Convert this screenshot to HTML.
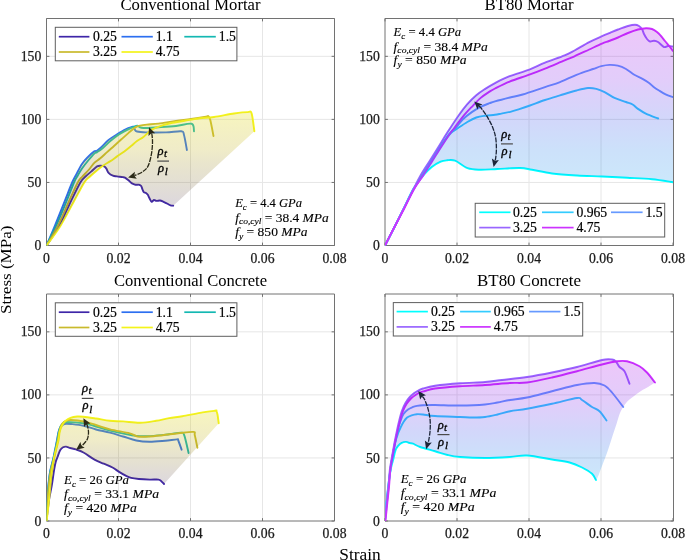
<!DOCTYPE html><html><head><meta charset="utf-8"><style>html,body{margin:0;padding:0;background:#fff;}svg{display:block;will-change:transform;}</style></head><body>
<svg width="685" height="560" viewBox="0 0 685 560" font-family='"Liberation Serif", serif'>
<rect width="685" height="560" fill="#fff"/>
<defs>
<clipPath id="clipTL"><rect x="46.5" y="18.5" width="288.0" height="227.0"/></clipPath>
<clipPath id="clipfTL"><rect x="45.9" y="17.9" width="289.2" height="228.2"/></clipPath>
<linearGradient id="gTL" gradientUnits="userSpaceOnUse" x1="0" y1="111" x2="0" y2="206">
<stop offset="0" stop-color="#e8e126" stop-opacity="0.3"/>
<stop offset="0.4" stop-color="#c3b323" stop-opacity="0.25"/>
<stop offset="0.72" stop-color="#78641e" stop-opacity="0.2"/>
<stop offset="1" stop-color="#50375a" stop-opacity="0.2"/>
</linearGradient>
<clipPath id="clipTR"><rect x="385.0" y="18.5" width="288.0" height="227.0"/></clipPath>
<clipPath id="clipfTR"><rect x="384.4" y="17.9" width="289.2" height="228.2"/></clipPath>
<linearGradient id="gTR" gradientUnits="userSpaceOnUse" x1="0" y1="25" x2="0" y2="182">
<stop offset="0" stop-color="#b000e8" stop-opacity="0.22"/>
<stop offset="0.35" stop-color="#7005e6" stop-opacity="0.2"/>
<stop offset="0.6" stop-color="#1e37e6" stop-opacity="0.2"/>
<stop offset="0.8" stop-color="#0069e6" stop-opacity="0.2"/>
<stop offset="1" stop-color="#008ceb" stop-opacity="0.2"/>
</linearGradient>
<clipPath id="clipBL"><rect x="46.5" y="294.0" width="288.0" height="227.0"/></clipPath>
<clipPath id="clipfBL"><rect x="45.9" y="293.4" width="289.2" height="228.2"/></clipPath>
<linearGradient id="gBL" gradientUnits="userSpaceOnUse" x1="0" y1="410" x2="0" y2="484">
<stop offset="0" stop-color="#e8e126" stop-opacity="0.3"/>
<stop offset="0.4" stop-color="#c3b323" stop-opacity="0.25"/>
<stop offset="0.72" stop-color="#78641e" stop-opacity="0.2"/>
<stop offset="1" stop-color="#50375a" stop-opacity="0.2"/>
</linearGradient>
<clipPath id="clipBR"><rect x="385.0" y="294.0" width="288.0" height="227.0"/></clipPath>
<clipPath id="clipfBR"><rect x="384.4" y="293.4" width="289.2" height="228.2"/></clipPath>
<linearGradient id="gBR" gradientUnits="userSpaceOnUse" x1="0" y1="359" x2="0" y2="481">
<stop offset="0" stop-color="#b000e8" stop-opacity="0.22"/>
<stop offset="0.35" stop-color="#7005e6" stop-opacity="0.2"/>
<stop offset="0.6" stop-color="#1e37e6" stop-opacity="0.2"/>
<stop offset="0.8" stop-color="#0069e6" stop-opacity="0.2"/>
<stop offset="1" stop-color="#008ceb" stop-opacity="0.2"/>
</linearGradient>
</defs>
<path d="M118.5,18.5V245.5M190.5,18.5V245.5M262.5,18.5V245.5M46.5,182.44H334.5M46.5,119.39H334.5M46.5,56.33H334.5" stroke="#e6e6e6" stroke-width="1" fill="none"/>
<path d="M46.5,18.5H334.5V245.5H46.5Z" fill="none" stroke="#727272" stroke-width="1"/>
<path d="M46.5,245.5v-2.9M46.5,18.5v2.9M118.5,245.5v-2.9M118.5,18.5v2.9M190.5,245.5v-2.9M190.5,18.5v2.9M262.5,245.5v-2.9M262.5,18.5v2.9M334.5,245.5v-2.9M334.5,18.5v2.9M46.5,245.5h2.9M334.5,245.5h-2.9M46.5,182.44h2.9M334.5,182.44h-2.9M46.5,119.39h2.9M334.5,119.39h-2.9M46.5,56.33h2.9M334.5,56.33h-2.9" stroke="#727272" stroke-width="1" fill="none"/>
<g clip-path="url(#clipTL)">
<path d="M46.5,245.5 C48.6,242.25 55.02,233.42 59.1,226 C63.18,218.58 67.43,208.29 71,201 C74.57,193.71 78.08,186.33 80.5,182.25 C82.92,178.17 83.68,178.31 85.5,176.5 C87.32,174.69 89.47,173.08 91.4,171.4 C93.33,169.72 95.55,167.35 97.1,166.4 C98.65,165.45 99.5,165.7 100.7,165.7 C101.9,165.7 103.35,165.92 104.3,166.4 C105.25,166.88 105.68,167.52 106.4,168.6 C107.12,169.68 107.52,171.72 108.6,172.9 C109.68,174.08 111.48,175.12 112.9,175.7 C114.32,176.28 115.43,176.17 117.1,176.4 C118.77,176.63 121.58,176.88 122.9,177.1 C124.22,177.32 124.07,177.17 125,177.7 C125.93,178.23 127.33,179.35 128.5,180.3 C129.67,181.25 130.83,182.67 132,183.4 C133.17,184.13 134.33,184.48 135.5,184.7 C136.67,184.92 138.05,184.48 139,184.7 C139.95,184.92 140.62,185.2 141.2,186 C141.78,186.8 142.07,188.48 142.5,189.5 C142.93,190.52 143.22,191.52 143.8,192.1 C144.38,192.68 145.33,192.55 146,193 C146.67,193.45 147.22,193.92 147.8,194.8 C148.38,195.68 148.85,197.13 149.5,198.3 C150.15,199.47 150.97,201.52 151.7,201.8 C152.43,202.08 153.1,200.15 153.9,200 C154.7,199.85 155.48,200.82 156.5,200.9 C157.52,200.98 158.83,200.35 160,200.5 C161.17,200.65 162.33,201.3 163.5,201.8 C164.67,202.3 165.83,202.92 167,203.5 C168.17,204.08 169.47,204.93 170.5,205.3 C171.53,205.67 172.75,205.63 173.2,205.7" stroke="#3e26a8" stroke-width="1.9" fill="none" stroke-linejoin="round" stroke-linecap="round"/>
<path d="M46.5,245.5 C47.88,242.25 51.71,233.42 54.75,226 C57.79,218.58 61.83,208.29 64.75,201 C67.67,193.71 70.38,186.58 72.25,182.25 C74.12,177.92 74.38,178.04 76,175 C77.62,171.96 80,167 82,164 C84,161 85.95,159.1 88,157 C90.05,154.9 92.88,152.4 94.3,151.4 C95.72,150.4 95.38,151.65 96.5,151 C97.62,150.35 98.98,149.33 101,147.5 C103.02,145.67 105.92,142.2 108.6,140 C111.28,137.8 114.25,136.08 117.1,134.3 C119.95,132.52 123.22,130.52 125.7,129.3 C128.18,128.08 130.62,127.42 132,127 C133.38,126.58 133.53,126.38 134,126.8 C134.47,127.22 134.3,128.72 134.8,129.5 C135.3,130.28 135.13,131.02 137,131.5 C138.87,131.98 141.17,132.25 146,132.4 C150.83,132.55 160.12,132.59 166,132.4 C171.88,132.21 178.25,130.82 181.25,131.25 C184.25,131.68 183.06,131.88 184,135 C184.94,138.12 186.42,147.5 186.9,150" stroke="#2c6ff0" stroke-width="1.9" fill="none" stroke-linejoin="round" stroke-linecap="round"/>
<path d="M46.5,245.5 C48.08,242.25 52.65,233.42 56,226 C59.35,218.58 63.58,208.29 66.6,201 C69.62,193.71 72.28,186.42 74.1,182.25 C75.92,178.08 76.18,178.29 77.5,176 C78.82,173.71 80.15,171.17 82,168.5 C83.85,165.83 86.55,162.48 88.6,160 C90.65,157.52 92.88,154.92 94.3,153.6 C95.72,152.28 95.67,153.05 97.1,152.1 C98.53,151.15 100.75,149.68 102.9,147.9 C105.05,146.12 107.63,143.43 110,141.4 C112.37,139.37 114.72,137.37 117.1,135.7 C119.48,134.03 121.92,132.7 124.3,131.4 C126.68,130.1 129.27,128.85 131.4,127.9 C133.53,126.95 135.75,125.85 137.1,125.7 C138.45,125.55 138.43,126.62 139.5,127 C140.57,127.38 140.33,127.96 143.5,128 C146.67,128.04 153.08,127.58 158.5,127.25 C163.92,126.92 170.48,126.58 176,126 C181.52,125.42 188.6,122.88 191.6,123.75 C194.6,124.62 193.6,130 194,131.25" stroke="#14b8b2" stroke-width="1.9" fill="none" stroke-linejoin="round" stroke-linecap="round"/>
<path d="M46.5,245.5 C48.4,242.25 54.13,233.42 57.9,226 C61.67,218.58 65.77,208.29 69.1,201 C72.43,193.71 75.75,186.25 77.9,182.25 C80.05,178.25 80.22,179.04 82,177 C83.78,174.96 86.55,172.35 88.6,170 C90.65,167.65 92.4,164.8 94.3,162.9 C96.2,161 97.87,160.4 100,158.6 C102.13,156.8 104.72,154.25 107.1,152.1 C109.48,149.95 111.92,147.83 114.3,145.7 C116.68,143.57 119.02,141.43 121.4,139.3 C123.78,137.17 126.22,134.93 128.6,132.9 C130.98,130.87 133.8,128.32 135.7,127.1 C137.6,125.88 138.13,126.02 140,125.6 C141.87,125.18 143.82,124.93 146.9,124.6 C149.98,124.27 153.65,124.22 158.5,123.6 C163.35,122.98 170.58,121.68 176,120.9 C181.42,120.12 186,119.62 191,118.9 C196,118.18 203.1,117.03 206,116.6 C208.9,116.17 207.68,115.73 208.4,116.3 C209.12,116.87 209.45,116.72 210.3,120 C211.15,123.28 212.97,133.33 213.5,136" stroke="#c9ba2c" stroke-width="1.9" fill="none" stroke-linejoin="round" stroke-linecap="round"/>
<path d="M46.5,245.5 C48.82,242.25 55.8,233.42 60.4,226 C65,218.58 70.08,208.29 74.1,201 C78.12,193.71 81.85,186.33 84.5,182.25 C87.15,178.17 88.13,178.31 90,176.5 C91.87,174.69 93.55,173.2 95.7,171.4 C97.85,169.6 100.52,167.37 102.9,165.7 C105.28,164.03 107.63,162.95 110,161.4 C112.37,159.85 114.72,158.07 117.1,156.4 C119.48,154.73 121.92,153.18 124.3,151.4 C126.68,149.62 129.28,147.43 131.4,145.7 C133.52,143.97 135,142.47 137,141 C139,139.53 140.98,138.75 143.4,136.9 C145.82,135.05 148.58,131.75 151.5,129.9 C154.42,128.05 157.38,126.98 160.9,125.8 C164.42,124.62 167.75,123.78 172.6,122.8 C177.45,121.82 185.43,120.67 190,119.9 C194.57,119.13 196,118.68 200,118.2 C204,117.72 208.33,117.78 214,117 C219.67,116.22 228.37,114.32 234,113.5 C239.63,112.68 244.87,112.12 247.8,112.1 C250.73,112.08 250.5,110.21 251.6,113.4 C252.7,116.59 253.93,128.28 254.4,131.25" stroke="#f4f41a" stroke-width="1.9" fill="none" stroke-linejoin="round" stroke-linecap="round"/>
</g>
<g clip-path="url(#clipfTL)">
<path d="M46.5,245.5 C47.88,242.25 51.71,233.42 54.75,226 C57.79,218.58 61.83,208.29 64.75,201 C67.67,193.71 70.38,186.58 72.25,182.25 C74.12,177.92 74.38,178.04 76,175 C77.62,171.96 80,167 82,164 C84,161 85.95,159.1 88,157 C90.05,154.9 92.88,152.4 94.3,151.4 C95.72,150.4 95.38,151.65 96.5,151 C97.62,150.35 98.98,149.33 101,147.5 C103.02,145.67 105.92,142.2 108.6,140 C111.28,137.8 114.25,136.08 117.1,134.3 C119.95,132.52 123.22,130.52 125.7,129.3 C128.18,128.08 130.62,127.42 132,127 C133.38,126.58 133.15,127.02 134,126.8 C134.85,126.58 136.1,125.9 137.1,125.7 C138.1,125.5 138.37,125.78 140,125.6 C141.63,125.42 143.82,124.93 146.9,124.6 C149.98,124.27 153.65,124.22 158.5,123.6 C163.35,122.98 170.58,121.68 176,120.9 C181.42,120.12 186,119.62 191,118.9 C196,118.18 203.1,117.03 206,116.6 C208.9,116.17 207.07,116.23 208.4,116.3 C209.73,116.37 209.73,117.47 214,117 C218.27,116.53 228.37,114.32 234,113.5 C239.63,112.68 244.87,112.12 247.8,112.1 C250.73,112.08 250.5,110.21 251.6,113.4 C252.7,116.59 253.93,128.28 254.4,131.25 L173.2,205.7 C172.75,205.63 171.53,205.67 170.5,205.3 C169.47,204.93 168.17,204.08 167,203.5 C165.83,202.92 164.67,202.3 163.5,201.8 C162.33,201.3 161.17,200.65 160,200.5 C158.83,200.35 157.52,200.98 156.5,200.9 C155.48,200.82 154.7,199.85 153.9,200 C153.1,200.15 152.43,202.08 151.7,201.8 C150.97,201.52 150.15,199.47 149.5,198.3 C148.85,197.13 148.38,195.68 147.8,194.8 C147.22,193.92 146.67,193.45 146,193 C145.33,192.55 144.38,192.68 143.8,192.1 C143.22,191.52 142.93,190.52 142.5,189.5 C142.07,188.48 141.78,186.8 141.2,186 C140.62,185.2 139.95,184.92 139,184.7 C138.05,184.48 136.67,184.92 135.5,184.7 C134.33,184.48 133.17,184.13 132,183.4 C130.83,182.67 129.67,181.25 128.5,180.3 C127.33,179.35 125.93,178.23 125,177.7 C124.07,177.17 124.22,177.32 122.9,177.1 C121.58,176.88 118.77,176.63 117.1,176.4 C115.43,176.17 114.32,176.28 112.9,175.7 C111.48,175.12 109.68,174.08 108.6,172.9 C107.52,171.72 107.12,169.68 106.4,168.6 C105.68,167.52 104.88,166.88 104.3,166.4 C103.72,165.92 104.33,164.87 102.9,165.7 C101.47,166.53 97.85,169.6 95.7,171.4 C93.55,173.2 91.87,174.69 90,176.5 C88.13,178.31 87.15,178.17 84.5,182.25 C81.85,186.33 78.12,193.71 74.1,201 C70.08,208.29 65,218.58 60.4,226 C55.8,233.42 48.82,242.25 46.5,245.5Z" fill="url(#gTL)" fill-opacity="1" stroke="none"/>
</g>
<text x="46.5" y="262.8" font-size="13.7" text-anchor="middle" fill="#1a1a1a" stroke="#1a1a1a" stroke-width="0.25">0</text>
<text x="118.5" y="262.8" font-size="13.7" text-anchor="middle" fill="#1a1a1a" stroke="#1a1a1a" stroke-width="0.25">0.02</text>
<text x="190.5" y="262.8" font-size="13.7" text-anchor="middle" fill="#1a1a1a" stroke="#1a1a1a" stroke-width="0.25">0.04</text>
<text x="262.5" y="262.8" font-size="13.7" text-anchor="middle" fill="#1a1a1a" stroke="#1a1a1a" stroke-width="0.25">0.06</text>
<text x="334.5" y="262.8" font-size="13.7" text-anchor="middle" fill="#1a1a1a" stroke="#1a1a1a" stroke-width="0.25">0.08</text>
<text x="41.3" y="250.1" font-size="13.7" text-anchor="end" fill="#1a1a1a" stroke="#1a1a1a" stroke-width="0.25">0</text>
<text x="41.3" y="187.04" font-size="13.7" text-anchor="end" fill="#1a1a1a" stroke="#1a1a1a" stroke-width="0.25">50</text>
<text x="41.3" y="123.99" font-size="13.7" text-anchor="end" fill="#1a1a1a" stroke="#1a1a1a" stroke-width="0.25">100</text>
<text x="41.3" y="60.93" font-size="13.7" text-anchor="end" fill="#1a1a1a" stroke="#1a1a1a" stroke-width="0.25">150</text>
<text x="190.5" y="10.3" font-size="16.2" text-anchor="middle" textLength="140" lengthAdjust="spacingAndGlyphs" fill="#000">Conventional Mortar</text>
<rect x="55.3" y="27.3" width="181.6" height="33.5" fill="#fff" stroke="#5e5e5e" stroke-width="1"/>
<path d="M58.8,36.7H89.4" stroke="#3e26a8" stroke-width="1.7"/>
<text x="92.9" y="41" font-size="13.7" fill="#000" stroke="#000" stroke-width="0.2">0.25</text>
<path d="M121.5,36.7H152.8" stroke="#2c6ff0" stroke-width="1.7"/>
<text x="155.7" y="41" font-size="13.7" fill="#000" stroke="#000" stroke-width="0.2">1.1</text>
<path d="M184.3,36.7H215.8" stroke="#14b8b2" stroke-width="1.7"/>
<text x="218.8" y="41" font-size="13.7" fill="#000" stroke="#000" stroke-width="0.2">1.5</text>
<path d="M58.8,52H89.4" stroke="#c9ba2c" stroke-width="1.7"/>
<text x="92.9" y="56.3" font-size="13.7" fill="#000" stroke="#000" stroke-width="0.2">3.25</text>
<path d="M121.5,52H152.8" stroke="#f4f41a" stroke-width="1.7"/>
<text x="155.7" y="56.3" font-size="13.7" fill="#000" stroke="#000" stroke-width="0.2">4.75</text>
<text x="235.2" y="207.3" font-size="12.4" textLength="66.8" lengthAdjust="spacingAndGlyphs" fill="#000" stroke="#000" stroke-width="0.12"><tspan font-style="italic">E</tspan><tspan font-style="italic" font-size="8.8" dy="2.9">c</tspan><tspan dy="-2.9"> = 4.4 </tspan><tspan font-style="italic">GPa</tspan></text>
<text x="235.2" y="221.5" font-size="12.4" textLength="93.5" lengthAdjust="spacingAndGlyphs" fill="#000" stroke="#000" stroke-width="0.12"><tspan font-style="italic">f</tspan><tspan font-style="italic" font-size="8.8" dy="2.9">co,cyl</tspan><tspan dy="-2.9"> = 38.4 </tspan><tspan font-style="italic">MPa</tspan></text>
<text x="235.2" y="235.6" font-size="12.4" textLength="72.4" lengthAdjust="spacingAndGlyphs" fill="#000" stroke="#000" stroke-width="0.12"><tspan font-style="italic">f</tspan><tspan font-style="italic" font-size="8.8" dy="2.9">y</tspan><tspan dy="-2.9"> = 850 </tspan><tspan font-style="italic">MPa</tspan></text>
<path d="M151.37,133.36 C151.47,133.63 151.81,133.36 152,135 C152.19,136.64 152.62,139.9 152.5,143.2 C152.38,146.5 152.07,150.93 151.3,154.8 C150.53,158.67 149.45,163.5 147.9,166.4 C146.35,169.3 144.15,170.68 142,172.2 C139.85,173.72 136.26,174.93 135,175.5 C133.74,176.07 134.55,175.62 134.46,175.65" stroke="#2b2a18" stroke-width="1.3" fill="none" stroke-dasharray="5,1"/>
<path d="M149,127.2 L155.23,133.37 L151.37,133.36 L148.51,135.96 Z" fill="#2b2a18"/>
<path d="M128.1,177.4 L134.86,171.81 L134.46,175.65 L136.77,178.75 Z" fill="#2b2a18"/>
<path d="M157.3,161.1H169" stroke="#4a4a4a" stroke-width="1.2"/>
<text x="157.5" y="155.1" font-size="12.5" font-style="italic" fill="#000" stroke="#000" stroke-width="0.35">&#961;</text>
<text x="163.9" y="157.1" font-size="11" font-style="italic" fill="#000" stroke="#000" stroke-width="0.3">t</text>
<text x="157.9" y="172" font-size="12.5" font-style="italic" fill="#000" stroke="#000" stroke-width="0.35">&#961;</text>
<text x="164.7" y="175.3" font-size="11" font-style="italic" fill="#000" stroke="#000" stroke-width="0.3">l</text>
<path d="M457,18.5V245.5M529,18.5V245.5M601,18.5V245.5M385,182.44H673M385,119.39H673M385,56.33H673" stroke="#e6e6e6" stroke-width="1" fill="none"/>
<path d="M385.0,18.5H673.5V245.5H385.0Z" fill="none" stroke="#727272" stroke-width="1"/>
<path d="M385,245.5v-2.9M385,18.5v2.9M457,245.5v-2.9M457,18.5v2.9M529,245.5v-2.9M529,18.5v2.9M601,245.5v-2.9M601,18.5v2.9M673,245.5v-2.9M673,18.5v2.9M385,245.5h2.9M673.5,245.5h-2.9M385,182.44h2.9M673.5,182.44h-2.9M385,119.39h2.9M673.5,119.39h-2.9M385,56.33h2.9M673.5,56.33h-2.9" stroke="#727272" stroke-width="1" fill="none"/>
<g clip-path="url(#clipTR)">
<path d="M385,245.5 C386.58,242.42 391.35,233.23 394.5,227 C397.65,220.77 400.75,214.47 403.9,208.1 C407.05,201.73 410.09,194.32 413.4,188.8 C416.71,183.28 420.68,178.63 423.75,175 C426.82,171.37 428.98,169.23 431.8,167 C434.62,164.77 438.17,162.72 440.7,161.6 C443.23,160.48 444.62,160.45 447,160.3 C449.38,160.15 451.58,159.38 455,160.7 C458.42,162.02 463.33,166.69 467.5,168.2 C471.67,169.71 475,169.62 480,169.75 C485,169.88 490.83,169.29 497.5,169 C504.17,168.71 514.25,167.88 520,168 C525.75,168.12 526.67,168.83 532,169.75 C537.33,170.67 544.5,172.54 552,173.5 C559.5,174.46 568.67,175 577,175.5 C585.33,176 593.67,176.12 602,176.5 C610.33,176.88 618.67,177.29 627,177.75 C635.33,178.21 644.33,178.5 652,179.25 C659.67,180 669.5,181.75 673,182.25" stroke="#00ffff" stroke-width="1.9" fill="none" stroke-linejoin="round" stroke-linecap="round"/>
<path d="M385,245.5 C386.58,242.42 391.33,233.23 394.5,227 C397.67,220.77 400.82,214.4 404,208.1 C407.18,201.8 410.5,194.72 413.6,189.2 C416.7,183.68 419.62,179.75 422.6,175 C425.58,170.25 428.52,165.47 431.5,160.7 C434.48,155.93 437.92,150.27 440.5,146.4 C443.08,142.53 445.17,139.82 447,137.5 C448.83,135.18 449.9,133.92 451.5,132.5 C453.1,131.08 453.97,130.75 456.6,129 C459.23,127.25 464.03,123.92 467.3,122 C470.57,120.08 473.27,118.55 476.25,117.5 C479.23,116.45 482.07,116.15 485.2,115.7 C488.32,115.25 492.3,115.15 495,114.8 C497.7,114.45 498.83,114.1 501.4,113.6 C503.97,113.1 507.42,112.55 510.4,111.8 C513.38,111.05 516.03,110.15 519.3,109.1 C522.57,108.05 525.72,107.02 530,105.5 C534.28,103.98 540,101.68 545,100 C550,98.32 554.75,96.98 560,95.4 C565.25,93.82 571.83,91.73 576.5,90.5 C581.17,89.27 584.7,88.28 588,88 C591.3,87.72 593.53,88.12 596.3,88.8 C599.07,89.48 601.57,90.58 604.6,92.1 C607.63,93.62 610.93,96.25 614.5,97.9 C618.07,99.55 622.98,100.9 626,102 C629.02,103.1 630.67,103.4 632.6,104.5 C634.53,105.6 635.4,107.08 637.6,108.6 C639.8,110.12 642.37,111.95 645.8,113.6 C649.23,115.25 656.13,117.68 658.2,118.5" stroke="#33ccff" stroke-width="1.9" fill="none" stroke-linejoin="round" stroke-linecap="round"/>
<path d="M385,245.5 C386.58,242.42 391.33,233.23 394.5,227 C397.67,220.77 400.82,214.4 404,208.1 C407.18,201.8 410.5,194.72 413.6,189.2 C416.7,183.68 419.62,179.75 422.6,175 C425.58,170.25 428.52,165.47 431.5,160.7 C434.48,155.93 437.5,150.93 440.5,146.4 C443.5,141.87 446.97,136.57 449.5,133.5 C452.03,130.43 453.47,130.37 455.7,128 C457.93,125.63 460.22,121.95 462.9,119.3 C465.58,116.65 468.83,114.18 471.8,112.1 C474.77,110.02 477.73,108.28 480.7,106.8 C483.67,105.32 487.22,104.1 489.6,103.2 C491.98,102.3 491.6,102.35 495,101.4 C498.4,100.45 505.38,98.65 510,97.5 C514.62,96.35 516.87,96.23 522.7,94.5 C528.53,92.77 538.78,89.15 545,87.1 C551.22,85.05 554.75,84.25 560,82.2 C565.25,80.15 571,77 576.5,74.8 C582,72.6 588.87,70.43 593,69 C597.13,67.57 598.55,66.88 601.3,66.2 C604.05,65.52 606.75,64.98 609.5,64.9 C612.25,64.82 615.05,65.02 617.8,65.7 C620.55,66.38 623.25,67.48 626,69 C628.75,70.52 631.55,73.15 634.3,74.8 C637.05,76.45 640.03,77.53 642.5,78.9 C644.97,80.27 647.18,81.62 649.1,83 C651.02,84.38 652.35,85.95 654,87.2 C655.65,88.45 657.07,89.32 659,90.5 C660.93,91.68 663.27,93.2 665.6,94.3 C667.93,95.4 671.77,96.63 673,97.1" stroke="#6699ff" stroke-width="1.9" fill="none" stroke-linejoin="round" stroke-linecap="round"/>
<path d="M385,245.5 C386.58,242.42 391.35,233.23 394.5,227 C397.65,220.77 400.75,214.4 403.9,208.1 C407.05,201.8 410.58,194.72 413.4,189.2 C416.22,183.68 418.07,179.75 420.8,175 C423.53,170.25 426.82,165.47 429.8,160.7 C432.78,155.93 435.73,151.17 438.7,146.4 C441.67,141.63 444.32,137.22 447.6,132.1 C450.88,126.98 455.12,120.37 458.4,115.7 C461.68,111.03 464.32,107.52 467.3,104.1 C470.28,100.68 473.27,97.73 476.25,95.2 C479.23,92.67 482.07,90.92 485.2,88.9 C488.32,86.88 490.93,85.22 495,83.1 C499.07,80.98 503.88,78.45 509.6,76.2 C515.32,73.95 523.4,71.85 529.3,69.6 C535.2,67.35 539.12,65.07 545,62.7 C550.88,60.33 559.68,57.43 564.6,55.4 C569.52,53.37 570.4,52.72 574.5,50.5 C578.6,48.28 584.62,44.48 589.2,42.1 C593.78,39.72 598.53,37.75 602,36.2 C605.47,34.65 607.33,33.92 610,32.8 C612.67,31.68 615,30.63 618,29.5 C621,28.37 625.17,26.78 628,26 C630.83,25.22 633.17,24.8 635,24.8 C636.83,24.8 637.83,25.3 639,26 C640.17,26.7 641.17,27.67 642,29 C642.83,30.33 643.17,32.33 644,34 C644.83,35.67 646,37.75 647,39 C648,40.25 648.83,41.2 650,41.5 C651.17,41.8 652.67,40.72 654,40.8 C655.33,40.88 656.33,40.97 658,42 C659.67,43.03 662.33,46.33 664,47 C665.67,47.67 666.5,46.08 668,46 C669.5,45.92 672.17,46.42 673,46.5" stroke="#9966ff" stroke-width="1.9" fill="none" stroke-linejoin="round" stroke-linecap="round"/>
<path d="M385,245.5 C386.58,242.42 391.25,233.23 394.5,227 C397.75,220.77 401.25,214.4 404.5,208.1 C407.75,201.8 410.83,194.72 414,189.2 C417.17,183.68 420.42,179.75 423.5,175 C426.58,170.25 429.5,165.47 432.5,160.7 C435.5,155.93 438.5,151.02 441.5,146.4 C444.5,141.78 448.43,135.98 450.5,133 C452.57,130.02 451.83,131.23 453.9,128.5 C455.97,125.77 459.92,120.22 462.9,116.6 C465.88,112.98 468.83,109.92 471.8,106.8 C474.77,103.68 477.73,100.43 480.7,97.9 C483.67,95.37 487.22,93.17 489.6,91.6 C491.98,90.03 491.67,90.17 495,88.5 C498.33,86.83 503.88,83.9 509.6,81.6 C515.32,79.3 523.4,76.87 529.3,74.7 C535.2,72.53 539.12,71 545,68.6 C550.88,66.2 559.68,62.35 564.6,60.3 C569.52,58.25 570.4,58.1 574.5,56.3 C578.6,54.5 584.62,51.62 589.2,49.5 C593.78,47.38 598.7,45.02 602,43.6 C605.3,42.18 606.33,42.02 609,41 C611.67,39.98 614.83,38.83 618,37.5 C621.17,36.17 624.67,34.33 628,33 C631.33,31.67 635,30.3 638,29.5 C641,28.7 643.67,28.28 646,28.2 C648.33,28.12 650.17,28.37 652,29 C653.83,29.63 655.5,30.83 657,32 C658.5,33.17 659.67,34.5 661,36 C662.33,37.5 663.5,39.17 665,41 C666.5,42.83 668.67,45.33 670,47 C671.33,48.67 672.5,50.33 673,51" stroke="#cc33ff" stroke-width="1.9" fill="none" stroke-linejoin="round" stroke-linecap="round"/>
</g>
<g clip-path="url(#clipfTR)">
<path d="M385,245.5 C386.58,242.42 391.35,233.23 394.5,227 C397.65,220.77 400.75,214.4 403.9,208.1 C407.05,201.8 410.58,194.72 413.4,189.2 C416.22,183.68 418.07,179.75 420.8,175 C423.53,170.25 426.82,165.47 429.8,160.7 C432.78,155.93 435.73,151.17 438.7,146.4 C441.67,141.63 444.32,137.22 447.6,132.1 C450.88,126.98 455.12,120.37 458.4,115.7 C461.68,111.03 464.32,107.52 467.3,104.1 C470.28,100.68 473.27,97.73 476.25,95.2 C479.23,92.67 482.07,90.92 485.2,88.9 C488.32,86.88 490.93,85.22 495,83.1 C499.07,80.98 503.88,78.45 509.6,76.2 C515.32,73.95 523.4,71.85 529.3,69.6 C535.2,67.35 539.12,65.07 545,62.7 C550.88,60.33 559.68,57.43 564.6,55.4 C569.52,53.37 570.4,52.72 574.5,50.5 C578.6,48.28 584.62,44.48 589.2,42.1 C593.78,39.72 598.53,37.75 602,36.2 C605.47,34.65 607.33,33.92 610,32.8 C612.67,31.68 615,30.63 618,29.5 C621,28.37 625.17,26.78 628,26 C630.83,25.22 633.17,24.8 635,24.8 C636.83,24.8 637.83,25.37 639,26 C640.17,26.63 640.83,28.23 642,28.6 C643.17,28.97 644.33,28.13 646,28.2 C647.67,28.27 650.17,28.37 652,29 C653.83,29.63 655.5,30.83 657,32 C658.5,33.17 659.67,34.5 661,36 C662.33,37.5 663.83,39.58 665,41 C666.17,42.42 666.67,43.58 668,44.5 C669.33,45.42 672.17,46.17 673,46.5 L673,182.25 C673,182.25 676.5,182.75 673,182.25 C669.5,181.75 659.67,180 652,179.25 C644.33,178.5 635.33,178.21 627,177.75 C618.67,177.29 610.33,176.88 602,176.5 C593.67,176.12 585.33,176 577,175.5 C568.67,175 559.5,174.46 552,173.5 C544.5,172.54 537.33,170.67 532,169.75 C526.67,168.83 525.75,168.12 520,168 C514.25,167.88 504.17,168.71 497.5,169 C490.83,169.29 485,169.88 480,169.75 C475,169.62 471.67,169.71 467.5,168.2 C463.33,166.69 458.42,162.02 455,160.7 C451.58,159.38 449.38,160.15 447,160.3 C444.62,160.45 443.23,160.48 440.7,161.6 C438.17,162.72 434.62,164.77 431.8,167 C428.98,169.23 426.82,171.37 423.75,175 C420.68,178.63 416.71,183.28 413.4,188.8 C410.09,194.32 407.05,201.73 403.9,208.1 C400.75,214.47 397.65,220.77 394.5,227 C391.35,233.23 386.58,242.42 385,245.5Z" fill="url(#gTR)" fill-opacity="1" stroke="none"/>
</g>
<text x="385" y="262.8" font-size="13.7" text-anchor="middle" fill="#1a1a1a" stroke="#1a1a1a" stroke-width="0.25">0</text>
<text x="457" y="262.8" font-size="13.7" text-anchor="middle" fill="#1a1a1a" stroke="#1a1a1a" stroke-width="0.25">0.02</text>
<text x="529" y="262.8" font-size="13.7" text-anchor="middle" fill="#1a1a1a" stroke="#1a1a1a" stroke-width="0.25">0.04</text>
<text x="601" y="262.8" font-size="13.7" text-anchor="middle" fill="#1a1a1a" stroke="#1a1a1a" stroke-width="0.25">0.06</text>
<text x="673" y="262.8" font-size="13.7" text-anchor="middle" fill="#1a1a1a" stroke="#1a1a1a" stroke-width="0.25">0.08</text>
<text x="379.8" y="250.1" font-size="13.7" text-anchor="end" fill="#1a1a1a" stroke="#1a1a1a" stroke-width="0.25">0</text>
<text x="379.8" y="187.04" font-size="13.7" text-anchor="end" fill="#1a1a1a" stroke="#1a1a1a" stroke-width="0.25">50</text>
<text x="379.8" y="123.99" font-size="13.7" text-anchor="end" fill="#1a1a1a" stroke="#1a1a1a" stroke-width="0.25">100</text>
<text x="379.8" y="60.93" font-size="13.7" text-anchor="end" fill="#1a1a1a" stroke="#1a1a1a" stroke-width="0.25">150</text>
<text x="529" y="10.3" font-size="16.2" text-anchor="middle" textLength="89" lengthAdjust="spacingAndGlyphs" fill="#000">BT80 Mortar</text>
<rect x="475.2" y="203.3" width="189.5" height="33.7" fill="#fff" stroke="#5e5e5e" stroke-width="1"/>
<path d="M479.2,212.3H510.5" stroke="#00ffff" stroke-width="1.7"/>
<text x="512.9" y="216.6" font-size="13.7" fill="#000" stroke="#000" stroke-width="0.2">0.25</text>
<path d="M542,212.3H573.6" stroke="#33ccff" stroke-width="1.7"/>
<text x="576.4" y="216.6" font-size="13.7" fill="#000" stroke="#000" stroke-width="0.2">0.965</text>
<path d="M611,212.3H642.6" stroke="#6699ff" stroke-width="1.7"/>
<text x="645.4" y="216.6" font-size="13.7" fill="#000" stroke="#000" stroke-width="0.2">1.5</text>
<path d="M479.2,227.6H510.5" stroke="#9966ff" stroke-width="1.7"/>
<text x="512.9" y="231.9" font-size="13.7" fill="#000" stroke="#000" stroke-width="0.2">3.25</text>
<path d="M542,227.6H573.6" stroke="#cc33ff" stroke-width="1.7"/>
<text x="576.4" y="231.9" font-size="13.7" fill="#000" stroke="#000" stroke-width="0.2">4.75</text>
<text x="393.6" y="36.4" font-size="12.4" textLength="67.6" lengthAdjust="spacingAndGlyphs" fill="#000" stroke="#000" stroke-width="0.12"><tspan font-style="italic">E</tspan><tspan font-style="italic" font-size="8.8" dy="2.9">c</tspan><tspan dy="-2.9"> = 4.4 </tspan><tspan font-style="italic">GPa</tspan></text>
<text x="393.6" y="50.5" font-size="12.4" textLength="94.3" lengthAdjust="spacingAndGlyphs" fill="#000" stroke="#000" stroke-width="0.12"><tspan font-style="italic">f</tspan><tspan font-style="italic" font-size="8.8" dy="2.9">co,cyl</tspan><tspan dy="-2.9"> = 38.4 </tspan><tspan font-style="italic">MPa</tspan></text>
<text x="393.6" y="64.2" font-size="12.4" textLength="73.0" lengthAdjust="spacingAndGlyphs" fill="#000" stroke="#000" stroke-width="0.12"><tspan font-style="italic">f</tspan><tspan font-style="italic" font-size="8.8" dy="2.9">y</tspan><tspan dy="-2.9"> = 850 </tspan><tspan font-style="italic">MPa</tspan></text>
<path d="M478.94,106.1 C479.46,106.63 480.61,107.33 482.1,109.3 C483.59,111.27 486.1,114.8 487.9,117.9 C489.7,121 491.6,124.57 492.9,127.9 C494.2,131.23 495.12,134.33 495.7,137.9 C496.28,141.47 496.4,145.97 496.4,149.3 C496.4,152.63 495.92,156.01 495.7,157.9 C495.48,159.79 495.17,160.2 495.07,160.67" stroke="#1b2538" stroke-width="1.3" fill="none" stroke-dasharray="5,1"/>
<path d="M474.3,101.4 L482.48,104.56 L478.94,106.1 L477.36,109.62 Z" fill="#1b2538"/>
<path d="M493.6,167.1 L491.87,158.5 L495.07,160.67 L498.89,160.1 Z" fill="#1b2538"/>
<path d="M501,143.9H512.9" stroke="#4a4a4a" stroke-width="1.2"/>
<text x="501.2" y="137.9" font-size="12.5" font-style="italic" fill="#000" stroke="#000" stroke-width="0.35">&#961;</text>
<text x="507.6" y="139.9" font-size="11" font-style="italic" fill="#000" stroke="#000" stroke-width="0.3">t</text>
<text x="501.6" y="154.8" font-size="12.5" font-style="italic" fill="#000" stroke="#000" stroke-width="0.35">&#961;</text>
<text x="508.4" y="158.1" font-size="11" font-style="italic" fill="#000" stroke="#000" stroke-width="0.3">l</text>
<path d="M118.5,294V521M190.5,294V521M262.5,294V521M46.5,457.94H334.5M46.5,394.89H334.5M46.5,331.83H334.5" stroke="#e6e6e6" stroke-width="1" fill="none"/>
<path d="M46.5,294.0H334.5V521.0H46.5Z" fill="none" stroke="#727272" stroke-width="1"/>
<path d="M46.5,521v-2.9M46.5,294v2.9M118.5,521v-2.9M118.5,294v2.9M190.5,521v-2.9M190.5,294v2.9M262.5,521v-2.9M262.5,294v2.9M334.5,521v-2.9M334.5,294v2.9M46.5,521h2.9M334.5,521h-2.9M46.5,457.94h2.9M334.5,457.94h-2.9M46.5,394.89h2.9M334.5,394.89h-2.9M46.5,331.83h2.9M334.5,331.83h-2.9" stroke="#727272" stroke-width="1" fill="none"/>
<g clip-path="url(#clipBL)">
<path d="M46.5,521 C46.67,519.5 47.08,515.5 47.5,512 C47.92,508.5 48.5,503.33 49,500 C49.5,496.67 50,494.67 50.5,492 C51,489.33 51.38,487.78 52,484 C52.62,480.22 53.58,472.97 54.2,469.3 C54.82,465.63 55.15,464.05 55.7,462 C56.25,459.95 56.77,458.97 57.5,457 C58.23,455.03 59.18,451.82 60.1,450.2 C61.02,448.58 62.02,447.9 63,447.3 C63.98,446.7 64.77,446.48 66,446.6 C67.23,446.72 68.73,447.53 70.4,448 C72.07,448.47 73.82,448.65 76,449.4 C78.18,450.15 80.33,450.75 83.5,452.5 C86.67,454.25 91.62,458.03 95,459.9 C98.38,461.77 100.88,462.43 103.8,463.7 C106.72,464.97 109.95,466.13 112.5,467.5 C115.05,468.87 116.9,470.53 119.1,471.9 C121.3,473.27 123.7,474.7 125.7,475.7 C127.7,476.7 128.92,477.35 131.1,477.9 C133.28,478.45 135.68,478.72 138.8,479 C141.92,479.28 146.52,479.5 149.8,479.6 C153.08,479.7 156.58,479.33 158.5,479.6 C160.42,479.87 160.38,480.47 161.3,481.2 C162.22,481.93 163.55,483.53 164,484" stroke="#3e26a8" stroke-width="1.9" fill="none" stroke-linejoin="round" stroke-linecap="round"/>
<path d="M46.5,521 C46.53,519.17 46.52,514.33 46.7,510 C46.88,505.67 47.23,500 47.6,495 C47.97,490 48.43,484.17 48.9,480 C49.37,475.83 49.73,473.33 50.4,470 C51.07,466.67 52.13,463.33 52.9,460 C53.67,456.67 54.32,453.33 55,450 C55.68,446.67 56.42,443 57,440 C57.58,437 57.92,434.17 58.5,432 C59.08,429.83 59.67,428.27 60.5,427 C61.33,425.73 62.58,424.94 63.5,424.4 C64.42,423.86 64.75,423.82 66,423.75 C67.25,423.68 68.08,423.67 71,424 C73.92,424.33 79.33,424.83 83.5,425.75 C87.67,426.67 91.58,428.36 96,429.5 C100.42,430.64 105.48,431.43 110,432.6 C114.52,433.77 118.72,435.18 123.1,436.5 C127.48,437.82 131.92,439.62 136.3,440.5 C140.68,441.38 144.58,441.77 149.4,441.8 C154.22,441.83 160.6,441.1 165.2,440.7 C169.8,440.3 174.82,439.43 177,439.4 C179.18,439.37 177.53,438.78 178.3,440.5 C179.07,442.22 181.05,448.17 181.6,449.7" stroke="#2c6ff0" stroke-width="1.9" fill="none" stroke-linejoin="round" stroke-linecap="round"/>
<path d="M46.5,521 C46.55,519.17 46.58,514.33 46.8,510 C47.02,505.67 47.42,500 47.8,495 C48.18,490 48.62,484.17 49.1,480 C49.58,475.83 50.02,473.33 50.7,470 C51.38,466.67 52.43,463.33 53.2,460 C53.97,456.67 54.62,453.33 55.3,450 C55.98,446.67 56.72,443 57.3,440 C57.88,437 58.22,434.33 58.8,432 C59.38,429.67 60.02,427.5 60.8,426 C61.58,424.5 62.63,423.67 63.5,423 C64.37,422.33 62.67,421.96 66,422 C69.33,422.04 78.5,422.5 83.5,423.25 C88.5,424 91.58,425.27 96,426.5 C100.42,427.73 103.28,429.03 110,430.6 C116.72,432.17 129.07,435.02 136.3,435.9 C143.53,436.78 147.93,436.18 153.4,435.9 C158.87,435.62 164.5,434.75 169.1,434.2 C173.7,433.65 178.48,432.43 181,432.6 C183.52,432.77 182.93,431.8 184.2,435.2 C185.47,438.6 187.87,450.03 188.6,453" stroke="#14b8b2" stroke-width="1.9" fill="none" stroke-linejoin="round" stroke-linecap="round"/>
<path d="M46.5,521 C46.57,519.17 46.65,514.33 46.9,510 C47.15,505.67 47.58,500 48,495 C48.42,490 48.9,484.17 49.4,480 C49.9,475.83 50.3,473.33 51,470 C51.7,466.67 52.82,463.33 53.6,460 C54.38,456.67 55,453.33 55.7,450 C56.4,446.67 57.22,443 57.8,440 C58.38,437 58.63,434.42 59.2,432 C59.77,429.58 60.4,427.17 61.2,425.5 C62,423.83 63.03,422.83 64,422 C64.97,421.17 65.83,420.83 67,420.5 C68.17,420.17 68.25,419.83 71,420 C73.75,420.17 79.33,420.67 83.5,421.5 C87.67,422.33 91.58,423.7 96,425 C100.42,426.3 104.38,427.92 110,429.3 C115.62,430.68 125.1,432.1 129.7,433.3 C134.3,434.5 134.32,435.97 137.6,436.5 C140.88,437.03 145.23,436.72 149.4,436.5 C153.57,436.28 157.78,435.73 162.6,435.2 C167.42,434.67 173.17,433.85 178.3,433.3 C183.43,432.75 190.65,431.58 193.4,431.9 C196.15,432.22 194.13,432.57 194.8,435.2 C195.47,437.83 196.97,445.62 197.4,447.7" stroke="#c9ba2c" stroke-width="1.9" fill="none" stroke-linejoin="round" stroke-linecap="round"/>
<path d="M46.5,521 C46.57,520.67 46.58,521.52 46.9,519 C47.22,516.48 47.9,510.53 48.4,505.9 C48.9,501.27 49.42,496.08 49.9,491.2 C50.38,486.32 50.82,480.73 51.3,476.6 C51.78,472.47 52.32,469.57 52.8,466.4 C53.28,463.23 53.6,460.53 54.2,457.6 C54.8,454.67 55.67,451.73 56.4,448.8 C57.13,445.87 58.05,442.8 58.6,440 C59.15,437.2 59.13,434.42 59.7,432 C60.27,429.58 61.03,427.33 62,425.5 C62.97,423.67 64.08,422.28 65.5,421 C66.92,419.72 68.54,418.55 70.5,417.8 C72.46,417.05 75.08,416.68 77.25,416.5 C79.42,416.32 80.38,416.37 83.5,416.7 C86.62,417.03 91.58,417.82 96,418.5 C100.42,419.18 105.48,420.32 110,420.8 C114.52,421.28 118.07,421.08 123.1,421.4 C128.13,421.72 134.72,422.8 140.2,422.7 C145.68,422.6 151.18,421.57 156,420.8 C160.82,420.03 164.72,418.87 169.1,418.1 C173.48,417.33 177.15,417.07 182.3,416.2 C187.45,415.33 194.55,413.81 200,412.9 C205.45,411.99 212.29,411.11 215,410.75 C217.71,410.39 215.83,410.12 216.25,410.75 C216.67,411.38 217.08,412.42 217.5,414.5 C217.92,416.58 218.54,421.79 218.75,423.25" stroke="#f4f41a" stroke-width="1.9" fill="none" stroke-linejoin="round" stroke-linecap="round"/>
</g>
<g clip-path="url(#clipfBL)">
<path d="M46.5,521 C46.57,520.67 46.58,521.52 46.9,519 C47.22,516.48 47.9,510.53 48.4,505.9 C48.9,501.27 49.42,496.08 49.9,491.2 C50.38,486.32 50.82,480.73 51.3,476.6 C51.78,472.47 52.32,469.57 52.8,466.4 C53.28,463.23 53.6,460.53 54.2,457.6 C54.8,454.67 55.67,451.73 56.4,448.8 C57.13,445.87 58.05,442.8 58.6,440 C59.15,437.2 59.13,434.42 59.7,432 C60.27,429.58 61.03,427.33 62,425.5 C62.97,423.67 64.08,422.28 65.5,421 C66.92,419.72 68.54,418.55 70.5,417.8 C72.46,417.05 75.08,416.68 77.25,416.5 C79.42,416.32 80.38,416.37 83.5,416.7 C86.62,417.03 91.58,417.82 96,418.5 C100.42,419.18 105.48,420.32 110,420.8 C114.52,421.28 118.07,421.08 123.1,421.4 C128.13,421.72 134.72,422.8 140.2,422.7 C145.68,422.6 151.18,421.57 156,420.8 C160.82,420.03 164.72,418.87 169.1,418.1 C173.48,417.33 177.15,417.07 182.3,416.2 C187.45,415.33 194.55,413.81 200,412.9 C205.45,411.99 212.29,411.11 215,410.75 C217.71,410.39 215.83,410.12 216.25,410.75 C216.67,411.38 217.08,412.42 217.5,414.5 C217.92,416.58 218.54,421.79 218.75,423.25 L164,484 C163.55,483.53 162.22,481.93 161.3,481.2 C160.38,480.47 160.42,479.87 158.5,479.6 C156.58,479.33 153.08,479.7 149.8,479.6 C146.52,479.5 141.92,479.28 138.8,479 C135.68,478.72 133.28,478.45 131.1,477.9 C128.92,477.35 127.7,476.7 125.7,475.7 C123.7,474.7 121.3,473.27 119.1,471.9 C116.9,470.53 115.05,468.87 112.5,467.5 C109.95,466.13 106.72,464.97 103.8,463.7 C100.88,462.43 98.38,461.77 95,459.9 C91.62,458.03 86.67,454.25 83.5,452.5 C80.33,450.75 78.18,450.15 76,449.4 C73.82,448.65 72.07,448.47 70.4,448 C68.73,447.53 67.23,446.72 66,446.6 C64.77,446.48 63.98,446.7 63,447.3 C62.02,447.9 61.02,448.58 60.1,450.2 C59.18,451.82 58.23,455.03 57.5,457 C56.77,458.97 56.25,459.95 55.7,462 C55.15,464.05 54.82,465.63 54.2,469.3 C53.58,472.97 52.62,480.22 52,484 C51.38,487.78 51,489.33 50.5,492 C50,494.67 49.5,496.67 49,500 C48.5,503.33 47.92,508.5 47.5,512 C47.08,515.5 46.67,519.5 46.5,521Z" fill="url(#gBL)" fill-opacity="1" stroke="none"/>
</g>
<text x="46.5" y="538.3" font-size="13.7" text-anchor="middle" fill="#1a1a1a" stroke="#1a1a1a" stroke-width="0.25">0</text>
<text x="118.5" y="538.3" font-size="13.7" text-anchor="middle" fill="#1a1a1a" stroke="#1a1a1a" stroke-width="0.25">0.02</text>
<text x="190.5" y="538.3" font-size="13.7" text-anchor="middle" fill="#1a1a1a" stroke="#1a1a1a" stroke-width="0.25">0.04</text>
<text x="262.5" y="538.3" font-size="13.7" text-anchor="middle" fill="#1a1a1a" stroke="#1a1a1a" stroke-width="0.25">0.06</text>
<text x="334.5" y="538.3" font-size="13.7" text-anchor="middle" fill="#1a1a1a" stroke="#1a1a1a" stroke-width="0.25">0.08</text>
<text x="41.3" y="525.6" font-size="13.7" text-anchor="end" fill="#1a1a1a" stroke="#1a1a1a" stroke-width="0.25">0</text>
<text x="41.3" y="462.54" font-size="13.7" text-anchor="end" fill="#1a1a1a" stroke="#1a1a1a" stroke-width="0.25">50</text>
<text x="41.3" y="399.49" font-size="13.7" text-anchor="end" fill="#1a1a1a" stroke="#1a1a1a" stroke-width="0.25">100</text>
<text x="41.3" y="336.43" font-size="13.7" text-anchor="end" fill="#1a1a1a" stroke="#1a1a1a" stroke-width="0.25">150</text>
<text x="190.5" y="285.8" font-size="16.2" text-anchor="middle" textLength="153" lengthAdjust="spacingAndGlyphs" fill="#000">Conventional Concrete</text>
<rect x="55.3" y="302.8" width="181.6" height="33.5" fill="#fff" stroke="#5e5e5e" stroke-width="1"/>
<path d="M58.8,312.2H89.4" stroke="#3e26a8" stroke-width="1.7"/>
<text x="92.9" y="316.5" font-size="13.7" fill="#000" stroke="#000" stroke-width="0.2">0.25</text>
<path d="M121.5,312.2H152.8" stroke="#2c6ff0" stroke-width="1.7"/>
<text x="155.7" y="316.5" font-size="13.7" fill="#000" stroke="#000" stroke-width="0.2">1.1</text>
<path d="M184.3,312.2H215.8" stroke="#14b8b2" stroke-width="1.7"/>
<text x="218.8" y="316.5" font-size="13.7" fill="#000" stroke="#000" stroke-width="0.2">1.5</text>
<path d="M58.8,327.5H89.4" stroke="#c9ba2c" stroke-width="1.7"/>
<text x="92.9" y="331.8" font-size="13.7" fill="#000" stroke="#000" stroke-width="0.2">3.25</text>
<path d="M121.5,327.5H152.8" stroke="#f4f41a" stroke-width="1.7"/>
<text x="155.7" y="331.8" font-size="13.7" fill="#000" stroke="#000" stroke-width="0.2">4.75</text>
<text x="64.1" y="483.7" font-size="12.4" textLength="64.8" lengthAdjust="spacingAndGlyphs" fill="#000" stroke="#000" stroke-width="0.12"><tspan font-style="italic">E</tspan><tspan font-style="italic" font-size="8.8" dy="2.9">c</tspan><tspan dy="-2.9"> = 26 </tspan><tspan font-style="italic">GPa</tspan></text>
<text x="64.1" y="497.6" font-size="12.4" textLength="95.0" lengthAdjust="spacingAndGlyphs" fill="#000" stroke="#000" stroke-width="0.12"><tspan font-style="italic">f</tspan><tspan font-style="italic" font-size="8.8" dy="2.9">co,cyl</tspan><tspan dy="-2.9"> = 33.1 </tspan><tspan font-style="italic">MPa</tspan></text>
<text x="64.1" y="512.1" font-size="12.4" textLength="72.6" lengthAdjust="spacingAndGlyphs" fill="#000" stroke="#000" stroke-width="0.12"><tspan font-style="italic">f</tspan><tspan font-style="italic" font-size="8.8" dy="2.9">y</tspan><tspan dy="-2.9"> = 420 </tspan><tspan font-style="italic">MPa</tspan></text>
<path d="M86.54,424.01 C86.68,424.27 87.07,424.22 87.4,425.6 C87.73,426.98 88.5,430.07 88.5,432.3 C88.5,434.53 88.25,437 87.4,439 C86.55,441 84.4,443.17 83.4,444.3 C82.4,445.43 81.74,445.53 81.41,445.77" stroke="#2b2a18" stroke-width="1.3" fill="none" stroke-dasharray="5,1"/>
<path d="M83.4,418.2 L90.37,423.53 L86.54,424.01 L84.04,426.95 Z" fill="#2b2a18"/>
<path d="M76.1,449.7 L80.39,442.05 L81.41,445.77 L84.67,447.84 Z" fill="#2b2a18"/>
<path d="M81.8,398.4H93.5" stroke="#4a4a4a" stroke-width="1.2"/>
<text x="82" y="392.4" font-size="12.5" font-style="italic" fill="#000" stroke="#000" stroke-width="0.35">&#961;</text>
<text x="88.4" y="394.4" font-size="11" font-style="italic" fill="#000" stroke="#000" stroke-width="0.3">t</text>
<text x="82.4" y="409.3" font-size="12.5" font-style="italic" fill="#000" stroke="#000" stroke-width="0.35">&#961;</text>
<text x="89.2" y="412.6" font-size="11" font-style="italic" fill="#000" stroke="#000" stroke-width="0.3">l</text>
<path d="M457,294V521M529,294V521M601,294V521M385,457.94H673M385,394.89H673M385,331.83H673" stroke="#e6e6e6" stroke-width="1" fill="none"/>
<path d="M385.0,294.0H673.5V521.0H385.0Z" fill="none" stroke="#727272" stroke-width="1"/>
<path d="M385,521v-2.9M385,294v2.9M457,521v-2.9M457,294v2.9M529,521v-2.9M529,294v2.9M601,521v-2.9M601,294v2.9M673,521v-2.9M673,294v2.9M385,521h2.9M673.5,521h-2.9M385,457.94h2.9M673.5,457.94h-2.9M385,394.89h2.9M673.5,394.89h-2.9M385,331.83h2.9M673.5,331.83h-2.9" stroke="#727272" stroke-width="1" fill="none"/>
<g clip-path="url(#clipBR)">
<path d="M385,521 C385.13,519.17 385.38,514.33 385.8,510 C386.22,505.67 386.93,500 387.5,495 C388.07,490 388.68,484.17 389.2,480 C389.72,475.83 390.13,472.67 390.6,470 C391.07,467.33 391.55,465.78 392,464 C392.45,462.22 392.72,461.57 393.3,459.3 C393.88,457.03 394.68,452.63 395.5,450.4 C396.32,448.17 397.16,447.17 398.2,445.9 C399.24,444.63 400.42,443.47 401.75,442.8 C403.08,442.13 404.86,441.83 406.2,441.9 C407.54,441.97 408.67,442.9 409.8,443.2 C410.93,443.5 411.3,443.07 413,443.7 C414.7,444.33 416.33,445.74 420,447 C423.67,448.26 430.42,449.92 435,451.25 C439.58,452.58 443.33,454.04 447.5,455 C451.67,455.96 453.75,456.5 460,457 C466.25,457.5 476.67,458 485,458 C493.33,458 503,457.42 510,457 C517,456.58 520,455.08 527,455.5 C534,455.92 544.92,458.33 552,459.5 C559.08,460.67 564.5,461.17 569.5,462.5 C574.5,463.83 578.25,465.62 582,467.5 C585.75,469.38 589.67,471.67 592,473.75 C594.33,475.83 595.33,478.96 596,480" stroke="#00ffff" stroke-width="1.9" fill="none" stroke-linejoin="round" stroke-linecap="round"/>
<path d="M385,521 C385.12,519.17 385.32,514.33 385.7,510 C386.08,505.67 386.75,500 387.3,495 C387.85,490 388.48,484.17 389,480 C389.52,475.83 389.85,473.75 390.4,470 C390.95,466.25 391.48,462.12 392.3,457.5 C393.12,452.88 394.32,446.38 395.3,442.3 C396.28,438.22 397.35,435.38 398.2,433 C399.05,430.62 399.52,429.83 400.4,428 C401.28,426.17 402.38,423.75 403.5,422 C404.62,420.25 405.75,418.62 407.1,417.5 C408.45,416.38 409.97,415.85 411.6,415.3 C413.23,414.75 415,414.33 416.9,414.2 C418.8,414.07 419.98,414.2 423,414.5 C426.02,414.8 428.83,415.58 435,416 C441.17,416.42 453.75,416.75 460,417 C466.25,417.25 468.33,417.5 472.5,417.5 C476.67,417.5 480.83,417.5 485,417 C489.17,416.5 493.33,415.46 497.5,414.5 C501.67,413.54 505.08,412.21 510,411.25 C514.92,410.29 520,410 527,408.75 C534,407.5 543.67,405.54 552,403.75 C560.33,401.96 572,398.62 577,398 C582,397.38 579.5,398.5 582,400 C584.5,401.5 589.08,405.12 592,407 C594.92,408.88 597.08,409 599.5,411.25 C601.92,413.5 605.33,418.96 606.5,420.5" stroke="#33ccff" stroke-width="1.9" fill="none" stroke-linejoin="round" stroke-linecap="round"/>
<path d="M385,521 C385.12,519.17 385.32,514.33 385.7,510 C386.08,505.67 386.75,500 387.3,495 C387.85,490 388.5,484.17 389,480 C389.5,475.83 389.77,473.75 390.3,470 C390.83,466.25 391.4,462.12 392.2,457.5 C393,452.88 394.17,446.88 395.1,442.3 C396.03,437.72 396.9,433.55 397.8,430 C398.7,426.45 399.55,423.68 400.5,421 C401.45,418.32 402.25,415.82 403.5,413.9 C404.75,411.98 406.5,410.62 408,409.5 C409.5,408.38 411.02,407.8 412.5,407.2 C413.98,406.6 415.15,406.23 416.9,405.9 C418.65,405.57 419.98,405.35 423,405.2 C426.02,405.05 428.83,404.95 435,405 C441.17,405.05 451.67,405.58 460,405.5 C468.33,405.42 478.75,405 485,404.5 C491.25,404 493.33,403.25 497.5,402.5 C501.67,401.75 505.08,400.83 510,400 C514.92,399.17 520,398.96 527,397.5 C534,396.04 543.67,393.33 552,391.25 C560.33,389.17 569.92,386.38 577,385 C584.08,383.62 589.92,382.92 594.5,383 C599.08,383.08 601.58,383.92 604.5,385.5 C607.42,387.08 608.88,388.92 612,392.5 C615.12,396.08 621.38,404.58 623.25,407" stroke="#6699ff" stroke-width="1.9" fill="none" stroke-linejoin="round" stroke-linecap="round"/>
<path d="M385,521 C385.05,520.67 384.98,522 385.3,519 C385.62,516 386.33,508.55 386.9,503 C387.47,497.45 388.22,491.2 388.7,485.7 C389.18,480.2 389.27,474.7 389.8,470 C390.33,465.3 391.1,462.12 391.9,457.5 C392.7,452.88 393.7,447.07 394.6,442.3 C395.5,437.53 396.52,432.58 397.3,428.9 C398.08,425.22 398.56,423.14 399.3,420.2 C400.04,417.26 400.75,414.08 401.75,411.25 C402.75,408.42 403.96,405.57 405.3,403.2 C406.64,400.82 408.31,398.7 409.8,397 C411.29,395.3 412.77,394.12 414.25,393 C415.73,391.88 417.24,391.05 418.7,390.3 C420.16,389.55 420.28,389.26 423,388.5 C425.72,387.74 428.83,386.62 435,385.75 C441.17,384.88 451.67,383.88 460,383.25 C468.33,382.62 478,382.54 485,382 C492,381.46 495,380.83 502,380 C509,379.17 518.67,378.25 527,377 C535.33,375.75 543.67,374.17 552,372.5 C560.33,370.83 568.67,369.08 577,367 C585.33,364.92 596.17,361.25 602,360 C607.83,358.75 609.71,359.29 612,359.5 C614.29,359.71 614.5,360 615.75,361.25 C617,362.5 618.04,365.33 619.5,367 C620.96,368.67 622.83,368.46 624.5,371.25 C626.17,374.04 628.67,381.67 629.5,383.75" stroke="#9966ff" stroke-width="1.9" fill="none" stroke-linejoin="round" stroke-linecap="round"/>
<path d="M385,521 C385.1,520.67 385.22,522 385.6,519 C385.98,516 386.72,508.55 387.3,503 C387.88,497.45 388.6,491.2 389.1,485.7 C389.6,480.2 389.75,474.7 390.3,470 C390.85,465.3 391.58,462.12 392.4,457.5 C393.22,452.88 394.27,447.07 395.2,442.3 C396.13,437.53 397.17,432.58 398,428.9 C398.83,425.22 399.4,423.1 400.2,420.2 C401,417.3 401.75,414.2 402.8,411.5 C403.85,408.8 405.13,406.17 406.5,404 C407.87,401.83 409.5,400 411,398.5 C412.5,397 414,396 415.5,395 C417,394 418.42,393.17 420,392.5 C421.58,391.83 422.5,391.67 425,391 C427.5,390.33 429.17,389.29 435,388.5 C440.83,387.71 451.67,386.83 460,386.25 C468.33,385.67 476.67,385.54 485,385 C493.33,384.46 503,383.42 510,383 C517,382.58 520,383.42 527,382.5 C534,381.58 543.67,379.38 552,377.5 C560.33,375.62 568.67,373.42 577,371.25 C585.33,369.08 595.33,366.17 602,364.5 C608.67,362.83 612.83,361.79 617,361.25 C621.17,360.71 623.25,360.42 627,361.25 C630.75,362.08 636.17,364.38 639.5,366.25 C642.83,368.12 644.42,369.79 647,372.5 C649.58,375.21 653.67,380.83 655,382.5" stroke="#cc33ff" stroke-width="1.9" fill="none" stroke-linejoin="round" stroke-linecap="round"/>
</g>
<g clip-path="url(#clipfBR)">
<path d="M385,521 C385.05,520.67 384.98,522 385.3,519 C385.62,516 386.33,508.55 386.9,503 C387.47,497.45 388.22,491.2 388.7,485.7 C389.18,480.2 389.27,474.7 389.8,470 C390.33,465.3 391.1,462.12 391.9,457.5 C392.7,452.88 393.7,447.07 394.6,442.3 C395.5,437.53 396.52,432.58 397.3,428.9 C398.08,425.22 398.56,423.14 399.3,420.2 C400.04,417.26 400.75,414.08 401.75,411.25 C402.75,408.42 403.96,405.57 405.3,403.2 C406.64,400.82 408.31,398.7 409.8,397 C411.29,395.3 412.77,394.12 414.25,393 C415.73,391.88 417.24,391.05 418.7,390.3 C420.16,389.55 420.28,389.26 423,388.5 C425.72,387.74 428.83,386.62 435,385.75 C441.17,384.88 451.67,383.88 460,383.25 C468.33,382.62 478,382.54 485,382 C492,381.46 495,380.83 502,380 C509,379.17 518.67,378.25 527,377 C535.33,375.75 543.67,374.17 552,372.5 C560.33,370.83 568.67,369.08 577,367 C585.33,364.92 596.17,361.25 602,360 C607.83,358.75 609.5,359.29 612,359.5 C614.5,359.71 614.5,360.96 617,361.25 C619.5,361.54 623.25,360.42 627,361.25 C630.75,362.08 636.17,364.38 639.5,366.25 C642.83,368.12 644.42,369.79 647,372.5 C649.58,375.21 653.67,380.83 655,382.5 L648,387 C646.83,387.67 643.38,389.46 641,391 C638.62,392.54 636,394.54 633.75,396.25 C631.5,397.96 629.25,399.46 627.5,401.25 C625.75,403.04 624.5,405.04 623.25,407 C622,408.96 621.12,410.17 620,413 C618.88,415.83 617.75,420.17 616.5,424 C615.25,427.83 613.92,431.67 612.5,436 C611.08,440.33 609.75,445 608,450 C606.25,455 604,461 602,466 C600,471 597.67,478.71 596,480 C594.33,481.29 594.33,475.83 592,473.75 C589.67,471.67 585.75,469.38 582,467.5 C578.25,465.62 574.5,463.83 569.5,462.5 C564.5,461.17 559.08,460.67 552,459.5 C544.92,458.33 534,455.92 527,455.5 C520,455.08 517,456.58 510,457 C503,457.42 493.33,458 485,458 C476.67,458 466.25,457.5 460,457 C453.75,456.5 451.67,455.96 447.5,455 C443.33,454.04 439.58,452.58 435,451.25 C430.42,449.92 423.67,448.26 420,447 C416.33,445.74 414.7,444.33 413,443.7 C411.3,443.07 410.93,443.5 409.8,443.2 C408.67,442.9 407.54,441.97 406.2,441.9 C404.86,441.83 403.08,442.13 401.75,442.8 C400.42,443.47 399.24,444.63 398.2,445.9 C397.16,447.17 396.32,448.17 395.5,450.4 C394.68,452.63 393.88,457.03 393.3,459.3 C392.72,461.57 392.45,462.22 392,464 C391.55,465.78 391.07,467.33 390.6,470 C390.13,472.67 389.72,475.83 389.2,480 C388.68,484.17 388.07,490 387.5,495 C386.93,500 386.22,505.67 385.8,510 C385.38,514.33 385.13,519.17 385,521Z" fill="url(#gBR)" fill-opacity="1" stroke="none"/>
</g>
<text x="385" y="538.3" font-size="13.7" text-anchor="middle" fill="#1a1a1a" stroke="#1a1a1a" stroke-width="0.25">0</text>
<text x="457" y="538.3" font-size="13.7" text-anchor="middle" fill="#1a1a1a" stroke="#1a1a1a" stroke-width="0.25">0.02</text>
<text x="529" y="538.3" font-size="13.7" text-anchor="middle" fill="#1a1a1a" stroke="#1a1a1a" stroke-width="0.25">0.04</text>
<text x="601" y="538.3" font-size="13.7" text-anchor="middle" fill="#1a1a1a" stroke="#1a1a1a" stroke-width="0.25">0.06</text>
<text x="673" y="538.3" font-size="13.7" text-anchor="middle" fill="#1a1a1a" stroke="#1a1a1a" stroke-width="0.25">0.08</text>
<text x="379.8" y="525.6" font-size="13.7" text-anchor="end" fill="#1a1a1a" stroke="#1a1a1a" stroke-width="0.25">0</text>
<text x="379.8" y="462.54" font-size="13.7" text-anchor="end" fill="#1a1a1a" stroke="#1a1a1a" stroke-width="0.25">50</text>
<text x="379.8" y="399.49" font-size="13.7" text-anchor="end" fill="#1a1a1a" stroke="#1a1a1a" stroke-width="0.25">100</text>
<text x="379.8" y="336.43" font-size="13.7" text-anchor="end" fill="#1a1a1a" stroke="#1a1a1a" stroke-width="0.25">150</text>
<text x="529" y="285.8" font-size="16.2" text-anchor="middle" textLength="104" lengthAdjust="spacingAndGlyphs" fill="#000">BT80 Concrete</text>
<rect x="393.3" y="302.6" width="189.4" height="33.4" fill="#fff" stroke="#5e5e5e" stroke-width="1"/>
<path d="M396.6,311.6H427.9" stroke="#00ffff" stroke-width="1.7"/>
<text x="431" y="315.9" font-size="13.7" fill="#000" stroke="#000" stroke-width="0.2">0.25</text>
<path d="M460.1,311.6H490.8" stroke="#33ccff" stroke-width="1.7"/>
<text x="493.8" y="315.9" font-size="13.7" fill="#000" stroke="#000" stroke-width="0.2">0.965</text>
<path d="M529.1,311.6H560.4" stroke="#6699ff" stroke-width="1.7"/>
<text x="563.4" y="315.9" font-size="13.7" fill="#000" stroke="#000" stroke-width="0.2">1.5</text>
<path d="M396.6,326.9H427.9" stroke="#9966ff" stroke-width="1.7"/>
<text x="431" y="331.2" font-size="13.7" fill="#000" stroke="#000" stroke-width="0.2">3.25</text>
<path d="M460.1,326.9H490.8" stroke="#cc33ff" stroke-width="1.7"/>
<text x="493.8" y="331.2" font-size="13.7" fill="#000" stroke="#000" stroke-width="0.2">4.75</text>
<text x="400.7" y="483.2" font-size="12.4" textLength="65.8" lengthAdjust="spacingAndGlyphs" fill="#000" stroke="#000" stroke-width="0.12"><tspan font-style="italic">E</tspan><tspan font-style="italic" font-size="8.8" dy="2.9">c</tspan><tspan dy="-2.9"> = 26 </tspan><tspan font-style="italic">GPa</tspan></text>
<text x="400.7" y="497.3" font-size="12.4" textLength="95.6" lengthAdjust="spacingAndGlyphs" fill="#000" stroke="#000" stroke-width="0.12"><tspan font-style="italic">f</tspan><tspan font-style="italic" font-size="8.8" dy="2.9">co,cyl</tspan><tspan dy="-2.9"> = 33.1 </tspan><tspan font-style="italic">MPa</tspan></text>
<text x="400.7" y="511.0" font-size="12.4" textLength="74.0" lengthAdjust="spacingAndGlyphs" fill="#000" stroke="#000" stroke-width="0.12"><tspan font-style="italic">f</tspan><tspan font-style="italic" font-size="8.8" dy="2.9">y</tspan><tspan dy="-2.9"> = 420 </tspan><tspan font-style="italic">MPa</tspan></text>
<path d="M422.21,396.32 C422.63,396.88 423.72,397.57 424.7,399.7 C425.68,401.83 427.2,405.73 428.1,409.1 C429,412.47 429.77,416.32 430.1,419.9 C430.43,423.48 430.32,427.25 430.1,430.6 C429.88,433.95 429.16,437.94 428.8,440 C428.44,442.06 428.08,442.47 427.94,442.96" stroke="#1b2538" stroke-width="1.3" fill="none" stroke-dasharray="5,1"/>
<path d="M418.3,391 L425.94,395.31 L422.21,396.32 L420.14,399.58 Z" fill="#1b2538"/>
<path d="M426.1,449.3 L424.87,440.61 L427.94,442.96 L431.79,442.62 Z" fill="#1b2538"/>
<path d="M437.5,434.6H449.5" stroke="#4a4a4a" stroke-width="1.2"/>
<text x="437.7" y="428.6" font-size="12.5" font-style="italic" fill="#000" stroke="#000" stroke-width="0.35">&#961;</text>
<text x="444.1" y="430.6" font-size="11" font-style="italic" fill="#000" stroke="#000" stroke-width="0.3">t</text>
<text x="438.1" y="445.5" font-size="12.5" font-style="italic" fill="#000" stroke="#000" stroke-width="0.35">&#961;</text>
<text x="444.9" y="448.8" font-size="11" font-style="italic" fill="#000" stroke="#000" stroke-width="0.3">l</text>
<text x="360" y="559.9" font-size="16.2" text-anchor="middle" textLength="41.5" lengthAdjust="spacingAndGlyphs" fill="#000">Strain</text>
<text transform="translate(11.0,269.8) rotate(-90)" font-size="15.2" text-anchor="middle" textLength="88.5" lengthAdjust="spacingAndGlyphs" fill="#000">Stress (MPa)</text>
</svg></body></html>
